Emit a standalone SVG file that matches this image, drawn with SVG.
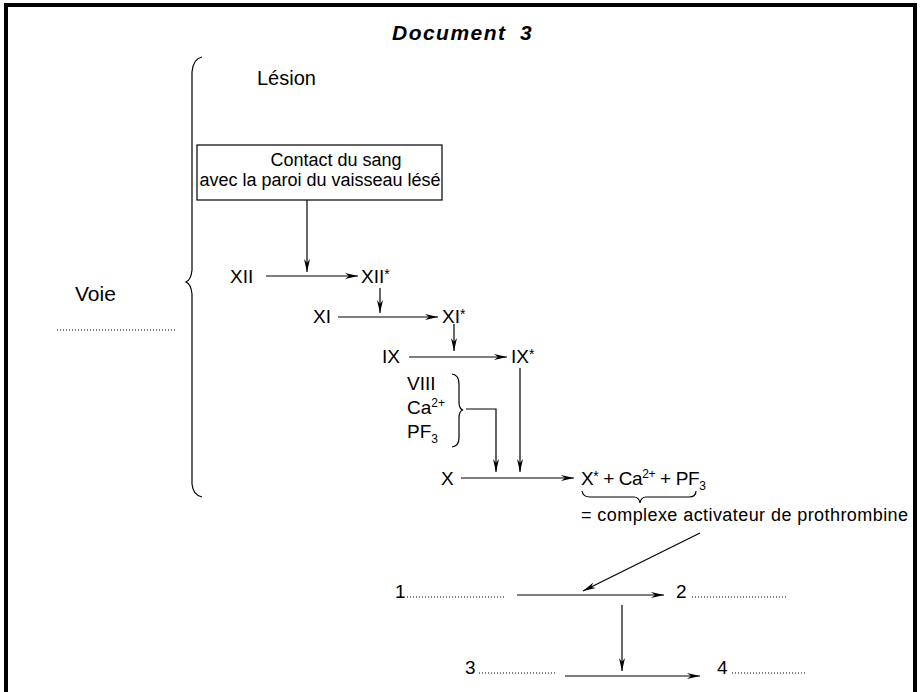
<svg xmlns="http://www.w3.org/2000/svg" width="921" height="692" viewBox="0 0 921 692">
<style>
text{font-family:"Liberation Sans",Arial,sans-serif;fill:#000}
.t{font-size:19px}
.s{font-size:12px}
.st{font-size:14px}
.ln{stroke:#000;stroke-width:1.2;fill:none}
.dot{stroke:#000;stroke-width:1;stroke-dasharray:1,2;fill:none}
</style>
<defs>
<marker id="ah" markerWidth="14" markerHeight="8" refX="13" refY="4" orient="auto" markerUnits="userSpaceOnUse">
<path d="M0,1 L13,4 L0,7 L4,4 z" fill="#000"/>
</marker>
</defs>
<rect x="6" y="5" width="909" height="700" fill="#fff" stroke="#000" stroke-width="4"/>
<g id="title" font-size="21" font-weight="bold" font-style="italic">
<text x="392" y="40" textLength="113">Document</text><text x="520" y="40">3</text>
</g>
<g id="brace">
<path class="ln" d="M202,57 Q193,59 192,72 L192,270 Q191,280 186,282 Q191,284 192,294 L192,484 Q193,495 202,497"/>
</g>
<g id="lesion"><text x="257" y="85" font-size="20">Lésion</text></g>
<g id="voie"><text x="75" y="301" font-size="21">Voie</text><line class="dot" x1="57" y1="330" x2="175" y2="330"/></g>
<g id="contact">
<rect x="197" y="145" width="245" height="55" fill="#fff" stroke="#000" stroke-width="1.2"/>
<text x="336" y="166" text-anchor="middle" font-size="18">Contact du sang</text>
<text x="320" y="186" text-anchor="middle" font-size="18">avec la paroi du vaisseau lésé</text>
</g>
<g id="XII"><text class="t" x="230" y="283">XII</text></g>
<g id="XIIs"><text class="t" x="361" y="283">XII<tspan class="st" dy="-4">*</tspan></text></g>
<g id="XI"><text class="t" x="313" y="323">XI</text></g>
<g id="XIs"><text class="t" x="442" y="323">XI<tspan class="st" dy="-4">*</tspan></text></g>
<g id="IX"><text class="t" x="382" y="363">IX</text></g>
<g id="IXs"><text class="t" x="511" y="363">IX<tspan class="st" dy="-4">*</tspan></text></g>
<g id="cofactors">
<text class="t" x="407" y="390">VIII</text>
<text class="t" x="407" y="414">Ca<tspan class="s" dy="-7">2+</tspan></text>
<text class="t" x="407" y="438">PF<tspan class="s" dy="5">3</tspan></text>
<path class="ln" d="M452,374 Q459,375 459,384 L459,402 Q459,409 463,410 Q459,411 459,418 L459,438 Q459,446 452,447"/>
</g>
<g id="X"><text class="t" x="441" y="485">X</text></g>
<g id="complex">
<text class="t" x="581" y="485" letter-spacing="-0.4">X<tspan class="st" dy="-4">*</tspan><tspan dy="4"> + Ca</tspan><tspan class="s" dy="-7">2+</tspan><tspan dy="7"> + PF</tspan><tspan class="s" dy="5">3</tspan></text>
<path class="ln" d="M582,491 Q583,497 590,497 L634,497 Q639,497 640,503 Q641,497 646,497 L689,497 Q696,497 696,491"/>
<text x="581" y="521" font-size="18" textLength="327">= complexe activateur de prothrombine</text>
</g>
<g id="n1"><text class="t" x="395" y="598">1</text><line class="dot" x1="407" y1="597" x2="505" y2="597"/></g>
<g id="n2"><text class="t" x="676" y="598">2</text><line class="dot" x1="692" y1="597" x2="787" y2="597"/></g>
<g id="n3"><text class="t" x="465" y="674">3</text><line class="dot" x1="479" y1="673" x2="555" y2="673"/></g>
<g id="n4"><text class="t" x="717" y="674">4</text><line class="dot" x1="732" y1="673" x2="805" y2="673"/></g>
<g id="connectors">
<line class="ln" x1="307" y1="200" x2="307" y2="272" marker-end="url(#ah)"/>
<line class="ln" x1="266" y1="276" x2="358" y2="276" marker-end="url(#ah)"/>
<line class="ln" x1="380" y1="288" x2="380" y2="313" marker-end="url(#ah)"/>
<line class="ln" x1="338" y1="317" x2="438" y2="317" marker-end="url(#ah)"/>
<line class="ln" x1="454" y1="324" x2="454" y2="351" marker-end="url(#ah)"/>
<line class="ln" x1="409" y1="357" x2="507" y2="357" marker-end="url(#ah)"/>
<polyline class="ln" points="466,409 496,409 496,472" marker-end="url(#ah)"/>
<line class="ln" x1="520" y1="368" x2="520" y2="472" marker-end="url(#ah)"/>
<line class="ln" x1="461" y1="478" x2="574" y2="478" marker-end="url(#ah)"/>
<line class="ln" x1="700" y1="533" x2="583" y2="591" marker-end="url(#ah)"/>
<line class="ln" x1="517" y1="595" x2="664" y2="595" marker-end="url(#ah)"/>
<line class="ln" x1="622" y1="605" x2="622" y2="671" marker-end="url(#ah)"/>
<line class="ln" x1="565" y1="676" x2="700" y2="676" marker-end="url(#ah)"/>
</g>
</svg>
